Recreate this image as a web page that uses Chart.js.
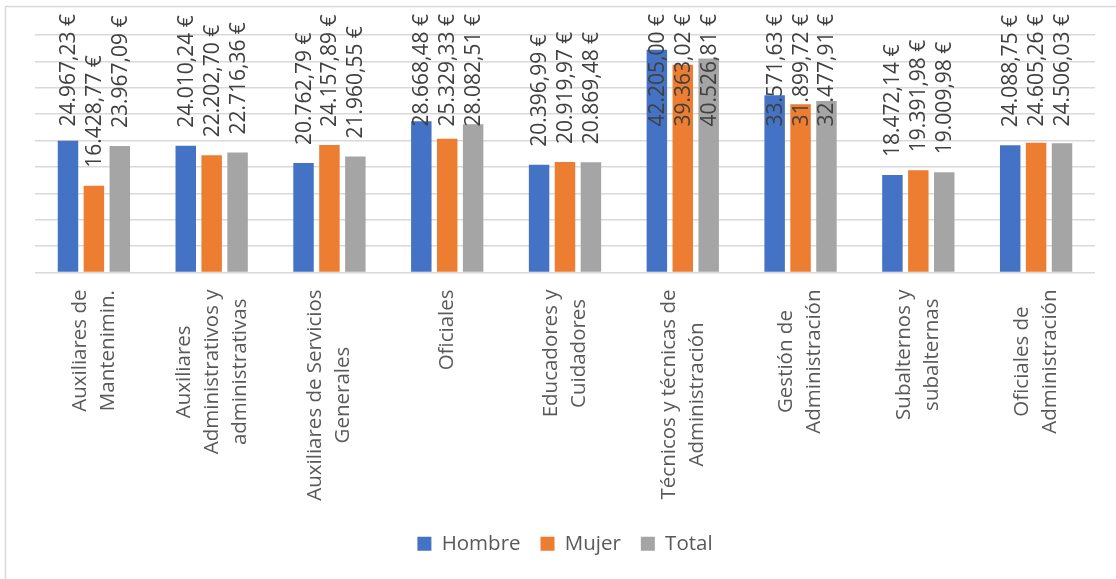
<!DOCTYPE html>
<html>
<head>
<meta charset="utf-8">
<script src="https://cdn.jsdelivr.net/npm/chart.js@4.4.1/dist/chart.umd.min.js"></script>
<style>
	html, body { margin: 0; padding: 0; background: #ffffff; }
	#wrap { width: 1116px; height: 579px; }
</style>
</head>
<body>
<div id="wrap"><canvas id="bar-chart" width="1116" height="579"></canvas></div>
<script>
// Data
const categories = [
	['Auxiliares de', 'Mantenimin.'],
	['Auxiliares', 'Administrativos y', 'administrativas'],
	['Auxiliares de Servicios', 'Generales'],
	['Oficiales'],
	['Educadores y', 'Cuidadores'],
	['Técnicos y técnicas de', 'Administración'],
	['Gestión de', 'Administración'],
	['Subalternos y', 'subalternas'],
	['Oficiales de', 'Administración']
];
const hombre = [24967.23, 24010.24, 20762.79, 28668.48, 20396.99, 42205.00, 33571.63, 18472.14, 24088.75];
const mujer = [16428.77, 22202.70, 24157.89, 25329.33, 20919.97, 39363.02, 31899.72, 19391.98, 24605.26];
const total = [23967.09, 22716.36, 21960.55, 28082.51, 20869.48, 40526.81, 32477.91, 19009.98, 24506.03];
const seriesNames = ['Hombre', 'Mujer', 'Total'];

const FONT = '"Open Sans", "DejaVu Sans", sans-serif';

/**
 * Spanish number format: 24.967,23 €
 */
function formatEuro(v) {
	const parts = v.toFixed(2).split('.');
	const intPart = parts[0].replace(/\B(?=(\d{3})+(?!\d))/g, '.');
	return intPart + ',' + parts[1] + ' €';
}

// white background + frame (only left and top edges are visible)
const framePlugin = {
	id: 'frame',
	beforeDraw(chart) {
		const ctx = chart.ctx;
		ctx.save();
		ctx.fillStyle = '#ffffff';
		ctx.fillRect(0, 0, chart.width, chart.height);
		ctx.strokeStyle = '#d9d9d9';
		ctx.lineWidth = 1.5;
		ctx.beginPath();
		ctx.moveTo(5.5, chart.height);
		ctx.lineTo(5.5, 6.5);
		ctx.lineTo(chart.width, 6.5);
		ctx.stroke();
		ctx.restore();
	}
};

// rotated value labels above each bar
const valueLabels = {
	id: 'valueLabels',
	afterDatasetsDraw(chart) {
		const ctx = chart.ctx;
		ctx.save();
		ctx.font = '21px ' + FONT;
		ctx.fillStyle = '#404040';
		ctx.textAlign = 'left';
		ctx.textBaseline = 'middle';
		chart.data.datasets.forEach((ds, di) => {
			const meta = chart.getDatasetMeta(di);
			meta.data.forEach((bar, i) => {
				const text = formatEuro(ds.data[i]);
				const w = ctx.measureText(text).width;
				let bottom = bar.y - 18;
				if (bottom - w < 14) bottom = 14 + w;
				ctx.save();
				ctx.translate(bar.x + 1, bottom);
				ctx.rotate(-Math.PI / 2);
				ctx.fillText(text, 0, 0);
				ctx.restore();
			});
		});
		ctx.restore();
	}
};

// rotated category labels, lines centred within each block
const categoryLabels = {
	id: 'categoryLabels',
	afterDraw(chart) {
		const ctx = chart.ctx;
		const xScale = chart.scales.x;
		const top = chart.chartArea.bottom + 17;
		const lineHeight = 28;
		ctx.save();
		ctx.font = '20.5px ' + FONT;
		ctx.fillStyle = '#595959';
		ctx.textAlign = 'center';
		ctx.textBaseline = 'middle';
		categories.forEach((lines, i) => {
			const cx = xScale.getPixelForValue(i);
			const maxW = Math.max(...lines.map(l => ctx.measureText(l).width));
			ctx.save();
			ctx.translate(cx, top);
			ctx.rotate(-Math.PI / 2);
			lines.forEach((line, j) => {
				ctx.fillText(line, -maxW / 2, (j - (lines.length - 1) / 2) * lineHeight);
			});
			ctx.restore();
		});
		ctx.restore();
	}
};

function initChart() {
	const ctx = document.getElementById('bar-chart').getContext('2d');

	const colors = ['#4472C4', '#ED7D31', '#A5A5A5'];
	const values = [hombre, mujer, total];

	chart = new Chart(ctx, {
		type: 'bar',
		data: {
			labels: categories.map(c => c.join(' ')),
			datasets: seriesNames.map((name, k) => ({
				label: name,
				data: values[k],
				backgroundColor: colors[k],
				borderWidth: 0,
				categoryPercentage: 0.66,
				barPercentage: 0.79
			}))
		},
		options: {
			responsive: false,
			animation: false,
			layout: {
				padding: { left: 35, right: 21, top: 35, bottom: 15 }
			},
			scales: {
				x: {
					grid: { display: false },
					border: { display: false },
					ticks: { display: false },
					afterFit(scale) { scale.height = 241; }
				},
				y: {
					min: 0,
					max: 45000,
					ticks: { display: false, stepSize: 5000 },
					border: { display: false },
					grid: { color: '#d9d9d9', lineWidth: 1.5, drawTicks: false }
				}
			},
			plugins: {
				legend: {
					display: true,
					position: 'bottom',
					labels: {
						boxWidth: 14,
						boxHeight: 14,
						padding: 20,
						color: '#595959',
						font: { family: FONT, size: 20.5 }
					}
				},
				tooltip: { enabled: false }
			}
		},
		plugins: [framePlugin, valueLabels, categoryLabels]
	});
}

let chart = null;
initChart();
</script>
</body>
</html>
